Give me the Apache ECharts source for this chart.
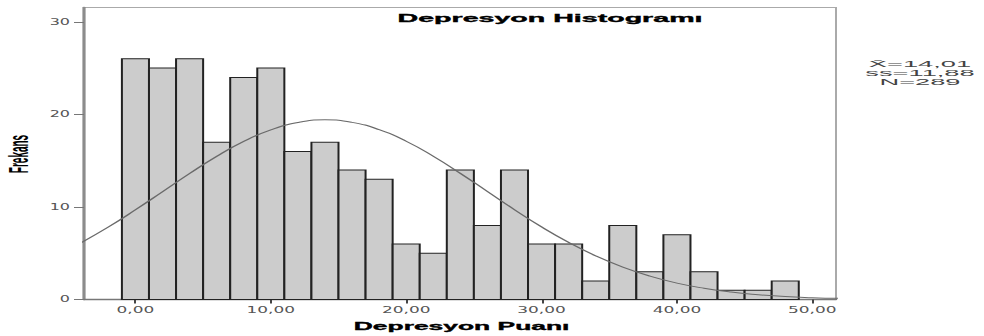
<!DOCTYPE html>
<html>
<head>
<meta charset="utf-8">
<script src="https://cdn.jsdelivr.net/npm/echarts@6/dist/echarts.min.js"></script>
<style>
  html, body { margin: 0; padding: 0; background: #fff; overflow: hidden; }
  #wrap { width: 984px; height: 336px; overflow: hidden; }
  /* The reference is a horizontally stretched SPSS chart: draw at half width and stretch 2x */
  #chart { width: 492px; height: 336px; transform: scaleX(2); transform-origin: 0 0; }
</style>
</head>
<body>
<div id="wrap"><div id="chart"></div></div>
<script>
// ---- data ----
const binWidth = 2;
const binCenters = [0, 2, 4, 6, 8, 10, 12, 14, 16, 18, 20, 22, 24, 26, 28, 30, 32, 34, 36, 38, 40, 42, 44, 46, 48];
const frequencies = [26, 25, 26, 17, 24, 25, 16, 17, 14, 13, 6, 5, 14, 8, 14, 6, 6, 2, 8, 3, 7, 3, 1, 1, 2];
const curveX = [-4, -2, 0, 2, 4, 6, 8, 10, 12, 14, 16, 18, 20, 22, 24, 26, 28, 30, 32, 34, 36, 38, 40, 42, 44, 46, 48, 50, 52];
const curveY = [6.15, 7.83, 9.69, 11.64, 13.61, 15.47, 17.08, 18.33, 19.13, 19.41, 19.14, 18.35, 17.10, 15.48, 13.63, 11.67, 9.70, 7.84, 6.17, 4.71, 3.50, 2.53, 1.77, 1.21, 0.80, 0.52, 0.32, 0.20, 0.12];
const xTicks = [0, 10, 20, 30, 40, 50];
const yTicks = [0, 10, 20, 30];
const titleText = 'Depresyon Histogramı';
const xAxisTitle = 'Depresyon Puanı';
const yAxisTitle = 'Frekans';
const statsLines = ['X\u0304=14,01', 'ss=11,88', 'N=289'];

const histData = binCenters.map((c, i) => [c, frequencies[i]]);
const curveData = curveX.map((x, i) => [x, curveY[i]]);

const chart = echarts.init(document.getElementById('chart'), null, { renderer: 'svg' });
chart.setOption({
  animation: false,
  backgroundColor: '#ffffff',
  grid: {
    left: 42, top: 7.5, width: 376, height: 292,
    show: true, borderColor: '#aaaaaa', borderWidth: 1, backgroundColor: 'transparent'
  },
  xAxis: {
    type: 'value', min: -3.8, max: 51.75,
    splitLine: { show: false },
    axisLine: { show: true, onZero: false, lineStyle: { color: '#777777', width: 1.3 } },
    axisTick: { show: true, length: 4, customValues: xTicks, lineStyle: { color: '#444444', width: 1 } },
    axisLabel: {
      customValues: xTicks, margin: 6, color: '#555555',
      fontFamily: 'DejaVu Sans', fontSize: 8.5,
      formatter: v => v.toFixed(2).replace('.', ',')
    }
  },
  yAxis: {
    type: 'value', min: 0, max: 31.55,
    splitLine: { show: false },
    axisLine: { show: true, onZero: false, lineStyle: { color: '#8c8c8c', width: 1.6 } },
    axisTick: { show: true, length: 5, customValues: yTicks, lineStyle: { color: '#777777', width: 1 } },
    axisLabel: {
      customValues: yTicks, margin: 7, color: '#555555',
      fontFamily: 'DejaVu Sans', fontSize: 8
    }
  },
  series: [
    {
      type: 'custom',
      data: histData,
      z: 2,
      renderItem: function (params, api) {
        const c = api.value(0), v = api.value(1);
        const p0 = api.coord([c - binWidth / 2, v]);
        const p1 = api.coord([c + binWidth / 2, 0]);
        return {
          type: 'rect',
          shape: { x: p0[0], y: p0[1], width: p1[0] - p0[0], height: p1[1] - p0[1] },
          style: { fill: '#cccccc', stroke: '#222222', lineWidth: 1 }
        };
      }
    },
    {
      type: 'line',
      data: curveData,
      z: 5,
      smooth: 0.5,
      symbol: 'none',
      lineStyle: { color: '#6a6a6a', width: 1 }
    }
  ],
  graphic: [
    {
      type: 'text', x: 275, y: 18, scaleX: 1.3, z: 10,
      style: { text: titleText, fontFamily: 'Liberation Sans', fontWeight: 'bold', fontSize: 11,
               fill: '#000000', stroke: '#000000', lineWidth: 0.35,
               align: 'center', verticalAlign: 'middle' }
    },
    {
      type: 'text', x: 230.8, y: 326, scaleX: 1.2, z: 10,
      style: { text: xAxisTitle, fontFamily: 'Liberation Sans', fontWeight: 'bold', fontSize: 11,
               fill: '#000000', stroke: '#000000', lineWidth: 0.35,
               align: 'center', verticalAlign: 'middle' }
    },
    {
      type: 'text', x: 9.2, y: 154, rotation: Math.PI / 2, scaleY: 1.35, z: 10,
      style: { text: yAxisTitle, fontFamily: 'Liberation Sans', fontWeight: 'bold', fontSize: 10,
               fill: '#000000', align: 'center', verticalAlign: 'middle' }
    },
    {
      type: 'text', x: 460, y: 73, scaleX: 1.55, z: 10,
      style: { text: statsLines.join('\n'), fontFamily: 'Liberation Sans', fontSize: 8.8, lineHeight: 8.8,
               fill: '#444444', align: 'center', verticalAlign: 'middle' }
    }
  ]
});
</script>
</body>
</html>
